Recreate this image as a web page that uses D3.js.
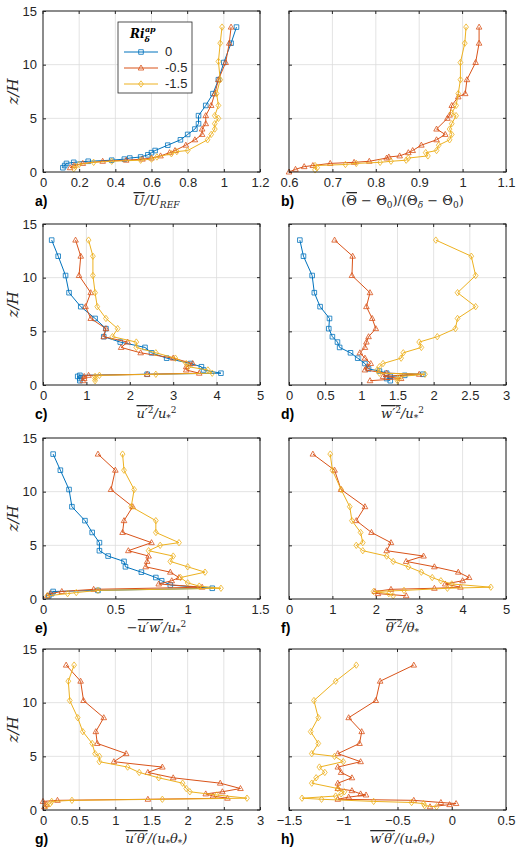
<!DOCTYPE html>
<html><head><meta charset="utf-8">
<script src="https://cdn.jsdelivr.net/npm/d3@7"></script>
<style>
body{margin:0;background:#fff}
text{font-family:"Liberation Sans",Arial,sans-serif}
.math{font-family:"DejaVu Serif","Liberation Serif",serif;font-style:italic}
</style></head><body>
<svg width="530" height="856"></svg>
<script>
// [x, z/H] pairs
let aBlue = [[0.11,0.4],[0.12,0.6],[0.13,0.8],[0.17,0.9],[0.25,1.0],[0.38,1.1],[0.45,1.2],[0.48,1.3],[0.54,1.4],[0.58,1.6],[0.6,1.8],[0.62,2.0],[0.69,2.5],[0.76,3.0],[0.8,3.5],[0.84,4.0],[0.86,4.5],[0.86,5.25],[0.9,6.2],[0.94,7.3],[0.97,8.6],[1.0,10.2],[1.04,12.0],[1.07,13.5]]
let aOrange = [[0.15,0.4],[0.17,0.6],[0.22,0.8],[0.33,1.0],[0.46,1.1],[0.55,1.2],[0.6,1.3],[0.65,1.5],[0.7,1.8],[0.73,2.0],[0.79,2.5],[0.84,3.0],[0.88,3.5],[0.88,4.0],[0.9,4.5],[0.9,5.25],[0.93,6.2],[0.95,7.3],[0.97,8.6],[1.01,10.2],[1.03,12.0],[1.04,13.5]]
let aYellow = [[0.17,0.3],[0.18,0.5],[0.2,0.7],[0.28,0.9],[0.38,1.0],[0.54,1.1],[0.6,1.2],[0.63,1.4],[0.71,1.7],[0.74,1.9],[0.8,2.0],[0.91,3.0],[0.93,3.5],[0.95,4.0],[0.95,4.5],[0.97,5.0],[0.95,5.25],[0.97,6.2],[0.96,7.3],[0.98,8.6],[0.97,10.3],[0.98,12.0],[0.99,13.5]]

let bOrange = [[0.6,0.0],[0.615,0.25],[0.635,0.5],[0.655,0.6],[0.695,0.8],[0.75,0.9],[0.785,1.0],[0.825,1.3],[0.83,1.4],[0.855,1.5],[0.875,1.8],[0.885,2.0],[0.905,2.5],[0.94,3.0],[0.96,3.5],[0.94,4.0],[0.965,5.0],[0.97,5.3],[0.975,6.2],[0.99,7.0],[1.006,7.3],[1.01,8.6],[1.03,10.2],[1.038,12.0],[1.038,13.5]]
let bYellow = [[0.66,0.2],[0.665,0.4],[0.66,0.6],[0.73,0.7],[0.755,0.8],[0.81,0.9],[0.835,1.0],[0.87,1.1],[0.875,1.3],[0.92,1.5],[0.915,1.8],[0.94,2.0],[0.945,2.5],[0.97,3.0],[0.975,3.5],[0.97,4.0],[0.975,4.5],[0.985,5.25],[0.975,5.5],[0.985,6.2],[0.99,7.3],[0.995,8.6],[0.995,10.2],[1.005,12.0],[1.008,13.5]]

let cBlue = [[0.85,0.4],[0.85,0.6],[0.8,0.8],[0.85,0.9],[2.4,1.0],[4.1,1.1],[3.7,1.4],[3.65,1.7],[3.4,2.0],[2.85,2.5],[2.5,3.0],[2.35,3.5],[1.78,4.0],[1.4,4.5],[1.45,5.25],[1.2,6.2],[0.87,7.3],[0.6,8.6],[0.52,10.2],[0.35,12.0],[0.2,13.5]]
let cOrange = [[0.92,0.4],[0.95,0.6],[0.95,0.8],[1.05,0.9],[2.4,1.0],[3.6,1.1],[3.3,1.4],[3.3,1.7],[3.45,2.0],[3.0,2.5],[2.25,3.0],[1.8,3.5],[1.95,4.0],[1.4,4.5],[1.45,5.25],[1.1,6.2],[0.98,7.3],[1.1,8.6],[0.83,10.2],[0.87,12.0],[0.75,13.5]]
let cYellow = [[1.2,0.4],[1.2,0.6],[1.2,0.8],[1.3,0.9],[2.6,1.0],[3.9,1.1],[3.8,1.4],[3.35,1.7],[3.3,2.0],[3.05,2.5],[2.6,3.0],[2.15,3.5],[2.15,4.0],[1.6,4.5],[1.72,5.25],[1.45,6.2],[1.25,7.3],[1.2,8.6],[1.15,10.2],[1.15,12.0],[1.05,13.5]]

let dBlue = [[1.4,0.4],[1.35,0.6],[1.4,0.8],[1.6,0.9],[1.85,1.0],[1.35,1.1],[1.25,1.3],[1.1,1.5],[1.05,2.0],[0.95,2.5],[0.85,3.0],[0.7,3.5],[0.67,4.0],[0.6,4.5],[0.55,5.25],[0.56,6.2],[0.43,7.3],[0.35,8.6],[0.32,10.2],[0.2,12.0],[0.15,13.5]]
let dOrange = [[1.12,0.4],[1.55,0.6],[1.3,0.8],[1.8,1.0],[1.35,1.1],[1.05,1.4],[1.08,1.7],[1.13,2.0],[1.05,2.5],[0.98,3.0],[1.05,3.5],[1.07,4.0],[1.1,4.5],[1.2,5.25],[1.15,6.2],[1.07,7.3],[1.12,8.6],[0.87,10.2],[0.88,12.0],[0.63,13.5]]
let dYellow = [[1.5,0.4],[1.5,0.6],[1.55,0.8],[1.88,1.0],[1.25,1.1],[1.22,1.4],[1.25,1.7],[1.3,2.0],[1.55,2.5],[1.58,3.0],[1.83,3.5],[1.8,4.0],[2.05,4.5],[2.3,5.25],[2.33,6.2],[2.58,7.3],[2.33,8.6],[2.58,10.2],[2.52,12.0],[2.03,13.5]]

let eBlue = [[0.04,0.3],[0.06,0.5],[0.07,0.7],[0.38,0.8],[1.17,1.0],[0.88,1.3],[0.82,1.7],[0.78,2.0],[0.68,2.5],[0.57,3.0],[0.56,3.5],[0.45,4.0],[0.39,4.5],[0.39,5.25],[0.34,6.2],[0.29,7.3],[0.2,8.6],[0.18,10.2],[0.12,12.0],[0.07,13.5]]
let eOrange = [[0.03,0.3],[0.05,0.5],[0.13,0.7],[0.35,0.9],[1.1,1.1],[0.8,1.4],[0.89,1.7],[0.94,2.0],[0.88,2.5],[0.71,3.0],[0.72,3.5],[0.73,4.0],[0.59,4.5],[0.75,5.25],[0.55,6.2],[0.56,7.3],[0.62,8.6],[0.47,10.2],[0.5,12.0],[0.38,13.5]]
let eYellow = [[0.03,0.3],[0.17,0.5],[0.23,0.6],[0.38,0.8],[1.23,1.0],[1.08,1.2],[1.0,1.5],[0.95,2.0],[1.12,2.5],[1.0,3.0],[0.88,3.5],[0.9,4.0],[0.73,4.5],[0.81,5.0],[0.94,5.25],[0.78,6.2],[0.78,7.3],[0.61,8.6],[0.63,10.2],[0.56,12.0],[0.55,13.5]]

let fOrange = [[2.7,0.3],[2.05,0.5],[1.98,0.7],[2.35,0.9],[3.35,1.0],[3.95,1.1],[3.6,1.4],[4.0,1.7],[4.15,2.0],[3.9,2.5],[3.35,3.0],[2.7,3.5],[3.1,4.0],[2.25,4.5],[2.35,5.25],[1.9,6.2],[1.55,7.3],[1.75,8.6],[1.2,10.2],[1.05,12.0],[0.55,13.5]]
let fYellow = [[2.4,0.3],[2.3,0.5],[1.95,0.7],[2.65,0.8],[3.65,1.0],[4.65,1.1],[3.75,1.4],[3.5,1.7],[3.3,2.0],[3.05,2.5],[2.75,3.0],[2.4,3.5],[2.25,4.0],[1.7,4.5],[1.55,5.0],[1.7,5.25],[1.65,6.2],[1.45,7.3],[1.4,8.6],[1.2,10.2],[1.0,12.0],[0.95,13.5]]

let gOrange = [[0.02,0.3],[0.05,0.5],[0.0,0.8],[0.2,0.9],[1.45,1.0],[2.55,1.1],[2.35,1.3],[2.25,1.5],[2.48,1.7],[2.73,2.0],[2.45,2.5],[1.8,3.0],[1.45,3.5],[1.65,4.0],[0.98,4.5],[1.15,5.25],[0.75,6.2],[0.73,7.3],[0.84,8.6],[0.56,10.2],[0.52,12.0],[0.32,13.5]]
let gYellow = [[0.05,0.4],[0.1,0.6],[0.12,0.8],[0.4,0.9],[1.65,1.0],[2.82,1.1],[2.4,1.4],[2.03,1.7],[1.98,2.0],[1.93,2.5],[1.6,3.0],[1.33,3.5],[1.17,4.0],[0.78,4.5],[0.78,5.0],[0.72,5.25],[0.68,6.2],[0.55,7.3],[0.48,8.6],[0.37,10.2],[0.35,12.0],[0.43,13.5]]

let hOrange = [[-0.2,0.3],[-0.02,0.5],[0.04,0.6],[-0.1,0.7],[-0.35,0.9],[-1.05,1.0],[-0.95,1.2],[-0.79,1.4],[-0.84,1.5],[-0.92,1.8],[-1.05,2.0],[-1.05,2.5],[-0.92,3.0],[-1.02,3.5],[-1.05,4.0],[-0.84,4.5],[-1.05,5.25],[-0.85,6.2],[-0.83,7.3],[-0.95,8.6],[-0.7,10.2],[-0.66,12.0],[-0.35,13.5]]
let hYellow = [[-0.14,0.3],[-0.25,0.4],[-0.26,0.6],[-0.37,0.7],[-0.72,0.8],[-1.2,1.0],[-1.38,1.1],[-1.07,1.3],[-1.02,1.5],[-0.99,1.7],[-1.05,2.0],[-1.29,2.5],[-1.25,3.0],[-1.17,3.5],[-1.22,4.0],[-1.0,4.5],[-1.08,5.0],[-1.29,5.25],[-1.23,6.2],[-1.3,7.3],[-1.23,8.6],[-1.27,10.2],[-1.07,12.0],[-0.88,13.5]]

let zTicks = [0, 5, 10, 15]
let legendLabels = ['0', '-0.5', '-1.5']
let colors = ['#0072BD', '#D95319', '#EDB120']

let svg = d3.select('svg')

// panel layout
let colX = [43, 289]
let rowY = [11, 224, 438, 649]
let pw = 217, ph = 161

let panels = [
  {id:'a', col:0, row:0, dom:[0,1.2], ticks:[0,0.2,0.4,0.6,0.8,1,1.2], series:[aBlue,aOrange,aYellow], label:'ulab'},
  {id:'b', col:1, row:0, dom:[0.6,1.1], ticks:[0.6,0.7,0.8,0.9,1,1.1], series:[null,bOrange,bYellow], label:'blab'},
  {id:'c', col:0, row:1, dom:[0,5], ticks:[0,1,2,3,4,5], series:[cBlue,cOrange,cYellow], label:'clab'},
  {id:'d', col:1, row:1, dom:[0,3], ticks:[0,0.5,1,1.5,2,2.5,3], series:[dBlue,dOrange,dYellow], label:'dlab'},
  {id:'e', col:0, row:2, dom:[0,1.5], ticks:[0,0.5,1,1.5], series:[eBlue,eOrange,eYellow], label:'elab'},
  {id:'f', col:1, row:2, dom:[0,5], ticks:[0,1,2,3,4,5], series:[null,fOrange,fYellow], label:'flab'},
  {id:'g', col:0, row:3, dom:[0,3], ticks:[0,0.5,1,1.5,2,2.5,3], series:[null,gOrange,gYellow], label:'glab'},
  {id:'h', col:1, row:3, dom:[-1.5,0.5], ticks:[-1.5,-1,-0.5,0,0.5], series:[null,hOrange,hYellow], label:'hlab'}
]

let markerPath = (k, x, y) => {
  if (k === 0) return `M${x-2.3},${y-2.3}h4.6v4.6h-4.6Z`
  if (k === 1) return `M${x},${y-3}L${x+2.8},${y+2}L${x-2.8},${y+2}Z`
  return `M${x},${y-3.2}L${x+2.4},${y}L${x},${y+3.2}L${x-2.4},${y}Z`
}

// x axis labels as small tspan pieces [text, cls, dy, size, overline]
let xLabels = {
  ulab: [['U','m',0,13,1],['/','m',0,13],['U','m',0,13],['REF','m',3,9]],
  blab: [['(','n',0,13],['Θ','n',0,13,1],[' − Θ','n',0,13],['0','n',3,9],[')/(Θ','n',-3,13],['δ','m',3,9],[' − Θ','n',-3,13],['0','n',3,9],[')','n',-3,13]],
  clab: [["u′","m",0,13,1],["2","n",-5,9,1],['/','m',5,13],['u','m',0,13],['*','n',3,9],['2','n',-8,9]],
  dlab: [["w′","m",0,13,1],["2","n",-5,9,1],['/','m',5,13],['u','m',0,13],['*','n',3,9],['2','n',-8,9]],
  elab: [['−','n',0,13],["u′w′","m",0,13,1],['/','m',0,13],['u','m',0,13],['*','n',3,9],['2','n',-8,9]],
  flab: [["θ′","m",0,13,1],["2","n",-5,9,1],['/','m',5,13],['θ','m',0,13],['*','n',3,9]],
  glab: [["u′θ′","m",0,13,1],['/(','m',0,13],['u','m',0,13],['*','n',3,9],['θ','m',-3,13],['*','n',3,9],[')','m',-3,13]],
  hlab: [["w′θ′","m",0,13,1],['/(','m',0,13],['u','m',0,13],['*','n',3,9],['θ','m',-3,13],['*','n',3,9],[')','m',-3,13]]
}

panels.forEach(p => {
  let x0 = colX[p.col], y0 = rowY[p.row]
  let xs = d3.scaleLinear().domain(p.dom).range([x0, x0 + pw])
  let ys = d3.scaleLinear().domain([0, 15]).range([y0 + ph, y0])
  let g = svg.append('g')

  // grid
  g.selectAll('.gx').data(p.ticks).enter().append('line')
    .attr('x1', d => xs(d)).attr('x2', d => xs(d)).attr('y1', y0).attr('y2', y0 + ph)
    .attr('stroke', '#dcdcdc').attr('stroke-width', 0.8)
  g.selectAll('.gy').data(zTicks).enter().append('line')
    .attr('x1', x0).attr('x2', x0 + pw).attr('y1', d => ys(d)).attr('y2', d => ys(d))
    .attr('stroke', '#dcdcdc').attr('stroke-width', 0.8)

  // axes
  let xa = g.append('g').attr('transform', `translate(0,${y0 + ph})`)
    .call(d3.axisBottom(xs).tickValues(p.ticks).tickSize(-3).tickSizeOuter(0).tickPadding(6).tickFormat(d3.format('')))
  let ya = g.append('g').attr('transform', `translate(${x0},0)`)
    .call(d3.axisLeft(ys).tickValues(zTicks).tickSize(-3).tickSizeOuter(0).tickPadding(6))
  if (p.col === 1) ya.selectAll('text').remove()
  ;[xa, ya].forEach(a => {
    a.select('.domain').remove()
    a.selectAll('line').attr('stroke', '#262626')
    a.selectAll('text').attr('font-size', 13).attr('fill', '#262626').attr('font-family', 'Liberation Sans, Arial, sans-serif')
  })
  // top/right ticks
  g.selectAll('.tx').data(p.ticks).enter().append('line')
    .attr('x1', d => xs(d)).attr('x2', d => xs(d)).attr('y1', y0).attr('y2', y0 + 3).attr('stroke', '#262626')
  g.selectAll('.ty').data(zTicks).enter().append('line')
    .attr('x1', x0 + pw).attr('x2', x0 + pw - 3).attr('y1', d => ys(d)).attr('y2', d => ys(d)).attr('stroke', '#262626')

  // series
  p.series.forEach((s, k) => {
    if (!s) return
    g.append('path').datum(s)
      .attr('d', d3.line().x(d => xs(d[0])).y(d => ys(d[1])))
      .attr('fill', 'none').attr('stroke', colors[k]).attr('stroke-width', 1)
    g.selectAll('.m' + k).data(s).enter().append('path')
      .attr('d', d => markerPath(k, xs(d[0]), ys(d[1])))
      .attr('fill', 'none').attr('stroke', colors[k]).attr('stroke-width', 0.8)
  })

  g.append('rect').attr('x', x0).attr('y', y0).attr('width', pw).attr('height', ph)
    .attr('fill', 'none').attr('stroke', '#262626').attr('stroke-width', 1)

  // panel letter
  svg.append('text').attr('x', x0 - 8).attr('y', y0 + ph + 34)
    .attr('font-size', 14).attr('font-weight', 'bold').text(p.id + ')')

  // x label
  let t = svg.append('text').attr('x', x0 + pw / 2 + 5).attr('y', y0 + ph + 33)
    .attr('text-anchor', 'middle').attr('fill', '#262626')
  xLabels[p.label].forEach(part => {
    let ts = t.append('tspan').text(part[0]).attr('dy', part[2]).attr('font-size', part[3])
      .attr('class', part[1] === 'm' ? 'math' : null)
      .attr('font-family', part[1] === 'm' ? null : 'DejaVu Serif, serif')
    if (part[4]) ts.style('text-decoration', 'overline')
  })

  if (p.col === 0) {
    svg.append('text').attr('class', 'math').attr('font-size', 15).attr('fill', '#262626')
      .attr('transform', `translate(${x0 - 25},${y0 + ph / 2}) rotate(-90)`)
      .attr('text-anchor', 'middle').text('z/H')
  }

  // legend
  if (p.id === 'a') {
    let lx = 118, ly = 22
    g.append('rect').attr('x', lx).attr('y', ly).attr('width', 74).attr('height', 71)
      .attr('fill', '#fff').attr('stroke', '#262626').attr('stroke-width', 0.8)
    let tt = g.append('text').attr('x', lx + 12).attr('y', ly + 16).attr('class', 'math').attr('font-size', 12).attr('font-weight', 'bold')
    tt.append('tspan').text('Ri')
    tt.append('tspan').text('δ').attr('font-size', 8).attr('dy', 4).attr('dx', 0)
    tt.append('tspan').text('ap').attr('font-size', 8).attr('dy', -10).attr('dx', -5)
    legendLabels.forEach((lab, k) => {
      let yy = ly + 30 + k * 16
      g.append('line').attr('x1', lx + 6).attr('x2', lx + 40).attr('y1', yy).attr('y2', yy).attr('stroke', colors[k])
      g.append('path').attr('d', markerPath(k, lx + 23, yy)).attr('fill', 'none').attr('stroke', colors[k]).attr('stroke-width', 0.8)
      g.append('text').attr('x', lx + 47).attr('y', yy + 4).attr('font-size', 13)
        .attr('font-family', 'Liberation Serif, serif').attr('fill', '#262626').text(lab)
    })
  }
})
</script></body></html>
